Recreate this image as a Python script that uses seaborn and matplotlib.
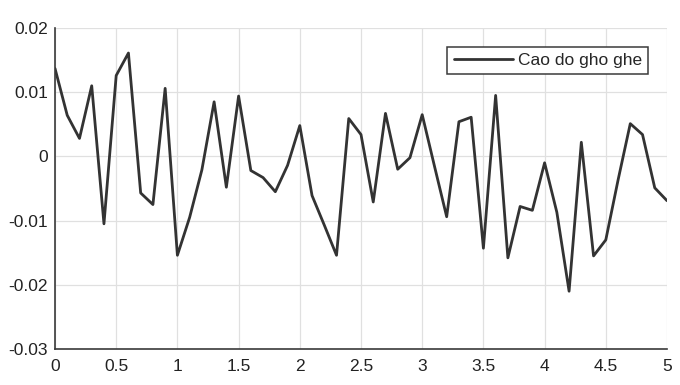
import numpy as np
import pandas as pd
import matplotlib
matplotlib.use("Agg")
import matplotlib.pyplot as plt
import seaborn as sns

# Data (t step 0.1 from 0 to 5)
t = [round(0.1 * i, 1) for i in range(51)]
height = [
    0.0137, 0.0064, 0.0028, 0.0110, -0.0105, 0.0126, 0.0161, -0.0057, -0.0075, 0.0106,
    -0.0154, -0.0095, -0.0021, 0.0085, -0.0048, 0.0094, -0.0022, -0.0033, -0.0055, -0.0014,
    0.0048, -0.0061, -0.0107, -0.0154, 0.0059, 0.0034, -0.0071, 0.0067, -0.0020, -0.0002,
    0.0065, -0.0015, -0.0094, 0.0054, 0.0061, -0.0143, 0.0095, -0.0158, -0.0078, -0.0084,
    -0.0010, -0.0087, -0.0210, 0.0022, -0.0155, -0.0130, -0.0037, 0.0051, 0.0034, -0.0049,
    -0.0069,
]
series_label = "Cao do gho ghe"
xticks = [0, 0.5, 1, 1.5, 2, 2.5, 3, 3.5, 4, 4.5, 5]
xticklabels = ["0", "0.5", "1", "1.5", "2", "2.5", "3", "3.5", "4", "4.5", "5"]
yticks = [-0.03, -0.02, -0.01, 0, 0.01, 0.02]
yticklabels = ["-0.03", "-0.02", "-0.01", "0", "0.01", "0.02"]

df = pd.DataFrame({"t": t, "h": height})

sns.set_style("whitegrid")
plt.rcParams["font.family"] = ["Liberation Sans", "DejaVu Sans"]

fig = plt.figure(figsize=(6.8, 3.85), dpi=100)
ax = fig.add_axes([55 / 680, 1 - 349 / 385, 612 / 680, 321 / 385])

sns.lineplot(data=df, x="t", y="h", ax=ax, color="#333333", linewidth=2.0,
             label=series_label)

ax.set_xlim(0, 5)
ax.set_ylim(-0.03, 0.02)
ax.set_xticks(xticks)
ax.set_xticklabels(xticklabels)
ax.set_yticks(yticks)
ax.set_yticklabels(yticklabels)
ax.set_xlabel("")
ax.set_ylabel("")

ax.grid(True, color="#e0e0e0", linewidth=0.9)
for side in ["top", "right"]:
    ax.spines[side].set_visible(False)
for side in ["left", "bottom"]:
    ax.spines[side].set_visible(True)
    ax.spines[side].set_color("#3a3a3a")
    ax.spines[side].set_linewidth(1.2)

ax.tick_params(axis="both", direction="in", length=4.5, width=1.0, color="#3a3a3a",
               labelsize=12.5, labelcolor="#222222")
ax.tick_params(axis="x", pad=7)
ax.tick_params(axis="y", pad=5)

leg = ax.legend(loc="upper right", bbox_to_anchor=(593 / 612, 302 / 321),
                fontsize=12.5, frameon=True, fancybox=False, handlelength=3.4,
                handletextpad=0.3, borderpad=0.35, borderaxespad=0)
leg.get_frame().set_edgecolor("#3a3a3a")
leg.get_frame().set_linewidth(1.1)
leg.get_frame().set_facecolor("white")
leg.get_frame().set_alpha(1)

fig.savefig("out.png", dpi=100)
